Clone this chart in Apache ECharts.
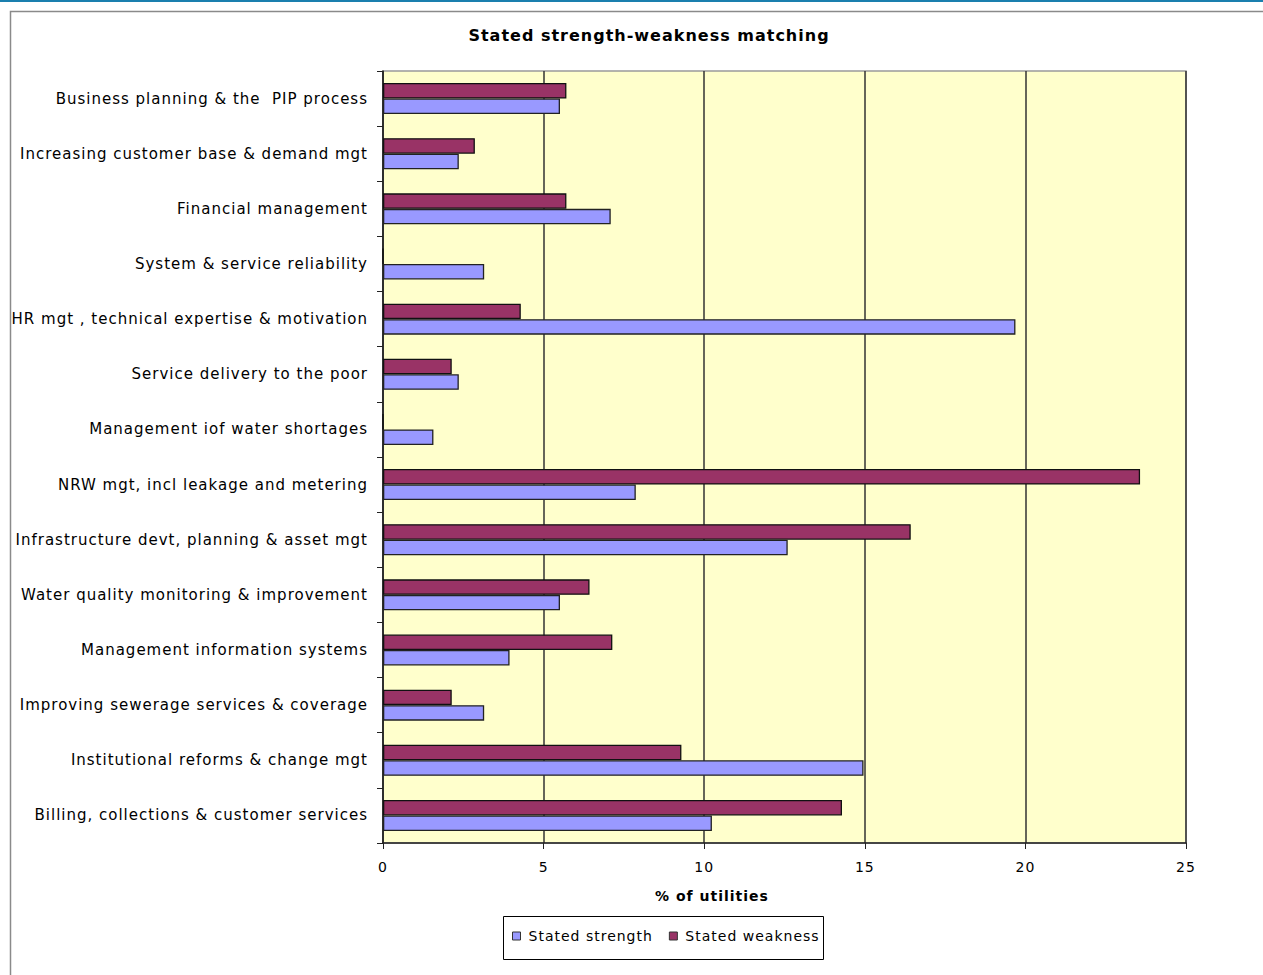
<!DOCTYPE html>
<html>
<head>
<meta charset="utf-8">
<script src="https://cdn.jsdelivr.net/npm/echarts@6/dist/echarts.min.js"></script>
<style>
html,body{margin:0;padding:0;background:#fff;}
#c{width:1263px;height:975px;}
#c text{letter-spacing:1px;}
</style>
</head>
<body>
<div id="c"></div>
<script>
var categories = [
  "Business planning & the  PIP process",
  "Increasing customer base & demand mgt",
  "Financial management",
  "System & service reliability",
  "HR mgt , technical expertise & motivation",
  "Service delivery to the poor",
  "Management iof water shortages",
  "NRW mgt, incl leakage and metering",
  "Infrastructure devt, planning & asset mgt",
  "Water quality monitoring & improvement",
  "Management information systems",
  "Improving sewerage services & coverage",
  "Institutional reforms & change mgt",
  "Billing, collections & customer services"
];
var strength = [5.51, 2.36, 7.09, 3.15, 19.69, 2.36, 1.57, 7.87, 12.6, 5.51, 3.94, 3.15, 14.96, 10.24];
var weakness = [5.71, 2.86, 5.71, 0, 4.29, 2.14, 0, 23.57, 16.43, 6.43, 7.14, 2.14, 9.29, 14.29];
var xTicks = [0, 5, 10, 15, 20, 25];

var font = "DejaVu Sans, Verdana, sans-serif";
var chart = echarts.init(document.getElementById('c'), null, {renderer: 'svg'});
chart.setOption({
  animation: false,
  backgroundColor: '#fff',
  textStyle: {fontFamily: font},
  graphic: [
    {type: 'rect', left: 8, top: 9, shape: {width: 1300, height: 1000}, style: {fill: 'none', stroke: '#8a8a8a', lineWidth: 1.5}, z: -1},
    {type: 'rect', left: 0, top: 0, shape: {width: 1263, height: 2}, style: {fill: '#1a7fae'}},
    {type: 'rect', left: 503, top: 916, shape: {width: 320, height: 43}, style: {fill: '#fff', stroke: '#000', lineWidth: 1}, z: 0}
  ],
  title: [
    {text: 'Stated strength-weakness matching', left: 644, top: 22, textAlign: 'center',
     textStyle: {fontFamily: font, fontSize: 16, fontWeight: 'bold', color: '#000'}},
    {text: '% of utilities', left: 707, top: 884, textAlign: 'center',
     textStyle: {fontFamily: font, fontSize: 14, fontWeight: 'bold', color: '#000'}}
  ],
  legend: {
    data: ['Stated strength', 'Stated weakness'],
    left: 512, top: 929,
    orient: 'horizontal',
    padding: 0,
    itemWidth: 8, itemHeight: 8, itemGap: 31,
    icon: 'rect',
    itemStyle: {borderColor: '#333', borderWidth: 1},
    textStyle: {fontFamily: font, fontSize: 14, color: '#000', padding: [0, 0, 0, 3]},
    z: 5
  },
  grid: {
    left: 383, right: 77, top: 71, bottom: 132,
    show: true, backgroundColor: '#FFFFCC', borderColor: '#9a9a9a', borderWidth: 1.5,
    containLabel: false
  },
  xAxis: {
    type: 'value', min: 0, max: 25, interval: 5,
    axisLine: {show: true, lineStyle: {color: '#222', width: 1.5}},
    axisTick: {show: true, length: 6, lineStyle: {color: '#222'}},
    axisLabel: {fontFamily: font, fontSize: 14, color: '#000', margin: 17,
      formatter: function (v) { return xTicks.indexOf(v) >= 0 ? String(v) : ''; }},
    splitLine: {show: true, lineStyle: {color: '#333', width: 1.5}}
  },
  yAxis: {
    type: 'category', data: categories, inverse: true,
    axisLine: {show: true, lineStyle: {color: '#222', width: 1.5}},
    axisTick: {show: true, length: 6, inside: false, lineStyle: {color: '#222'}},
    axisLabel: {fontFamily: font, fontSize: 15, color: '#000', margin: 15},
    splitLine: {show: false}
  },
  series: [
    {name: 'Stated weakness', type: 'bar', data: weakness, barWidth: 15.5, barGap: '0%', barCategoryGap: '45%',
     itemStyle: {color: '#993366', borderColor: '#111', borderWidth: 1.3}},
    {name: 'Stated strength', type: 'bar', data: strength, barWidth: 15.5, barGap: '0%', barCategoryGap: '45%',
     itemStyle: {color: '#9999FF', borderColor: '#222', borderWidth: 1.3}}
  ]
});
</script>
</body>
</html>
